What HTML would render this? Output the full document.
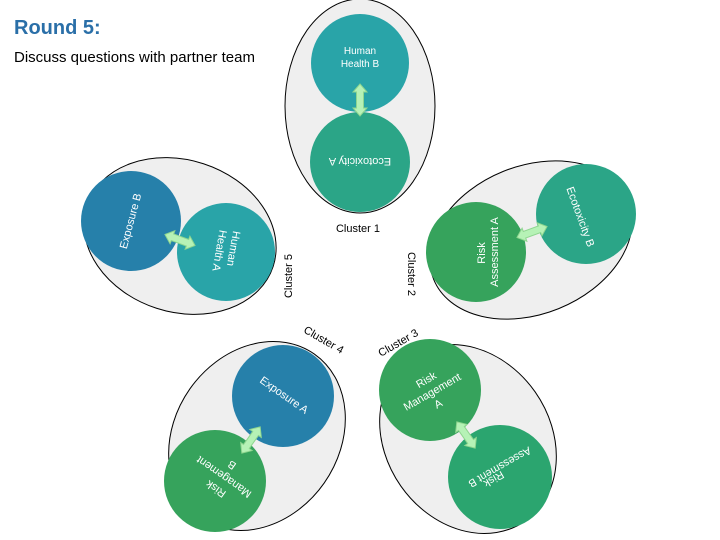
<!DOCTYPE html>
<html><head><meta charset="utf-8"><style>
html,body{margin:0;padding:0;background:#fff;width:720px;height:540px;overflow:hidden;}
svg{display:block;}
text{font-family:"Liberation Sans",sans-serif;}
</style></head><body>
<svg width="720" height="540" viewBox="0 0 720 540" xmlns="http://www.w3.org/2000/svg">
<defs>
<g id="arr">
<polygon points="-16,0 -8,-7 -8,-3.5 8,-3.5 8,-7 16,0 8,7 8,3.5 -8,3.5 -8,7" fill="#b6f2b6" stroke="#8fd68f" stroke-width="1"/>
</g>
</defs>
<text x="14" y="34" font-size="20" font-weight="bold" fill="#2a6fa8">Round 5:</text>
<text x="14" y="62" font-size="15" fill="#000">Discuss questions with partner team</text>

<!-- top cluster 1 -->
<ellipse cx="360" cy="106" rx="75" ry="107" fill="#efefef" stroke="#000" stroke-width="1"/>
<circle cx="360" cy="63" r="49" fill="#29a4a8"/>
<circle cx="360" cy="162" r="50" fill="#2ba587"/>
<use href="#arr" transform="translate(360,100) rotate(90)"/>
<text x="360" y="54" font-size="10" fill="#fff" text-anchor="middle">Human</text>
<text x="360" y="67" font-size="10" fill="#fff" text-anchor="middle">Health B</text>
<text transform="translate(360,158) rotate(180)" font-size="11" fill="#fff" text-anchor="middle">Ecotoxicity A</text>
<text x="358" y="232" font-size="11" text-anchor="middle">Cluster 1</text>

<!-- cluster 5 -->
<ellipse cx="180" cy="236" rx="98" ry="76" transform="rotate(18 180 236)" fill="#efefef" stroke="#000"/>
<circle cx="131" cy="221" r="50" fill="#2680aa"/>
<circle cx="226" cy="252" r="49" fill="#29a4a8"/>
<use href="#arr" transform="translate(180,240) rotate(20)"/>
<text transform="translate(134,222) rotate(-75)" font-size="11" fill="#fff" text-anchor="middle">Exposure B</text>
<text transform="translate(230,248) rotate(100)" font-size="11" fill="#fff" text-anchor="middle">Human</text>
<text transform="translate(216,250) rotate(100)" font-size="11" fill="#fff" text-anchor="middle">Health A</text>
<text transform="translate(292,276) rotate(-90)" font-size="11" text-anchor="middle">Cluster 5</text>

<!-- cluster 2 -->
<ellipse cx="531" cy="240" rx="105" ry="74" transform="rotate(-22 531 240)" fill="#efefef" stroke="#000"/>
<circle cx="476" cy="252" r="50" fill="#36a35c"/>
<circle cx="586" cy="214" r="50" fill="#2ba587"/>
<use href="#arr" transform="translate(532,232) rotate(-20)"/>
<text transform="translate(485,253) rotate(-90)" font-size="11" fill="#fff" text-anchor="middle">Risk</text>
<text transform="translate(498,252) rotate(-90)" font-size="11" fill="#fff" text-anchor="middle">Assessment A</text>
<text transform="translate(577,218) rotate(70)" font-size="11" fill="#fff" text-anchor="middle">Ecotoxicity B</text>
<text transform="translate(408,274) rotate(90)" font-size="11" text-anchor="middle">Cluster 2</text>

<!-- cluster 4 -->
<ellipse cx="257" cy="436" rx="82" ry="100" transform="rotate(35 257 436)" fill="#efefef" stroke="#000"/>
<circle cx="283" cy="396" r="51" fill="#2680aa"/>
<circle cx="215" cy="481" r="51" fill="#36a35c"/>
<use href="#arr" transform="translate(251,440) rotate(-55)"/>
<text transform="translate(282,398) rotate(35)" font-size="11" fill="#fff" text-anchor="middle">Exposure A</text>
<text transform="translate(218,486) rotate(215)" font-size="11" fill="#fff" text-anchor="middle">Risk</text>
<text transform="translate(226,474) rotate(215)" font-size="11" fill="#fff" text-anchor="middle">Management</text>
<text transform="translate(234,462) rotate(215)" font-size="11" fill="#fff" text-anchor="middle">B</text>
<text transform="translate(322,343) rotate(30)" font-size="11" text-anchor="middle">Cluster 4</text>

<!-- cluster 3 -->
<ellipse cx="468" cy="439" rx="82" ry="100" transform="rotate(-35 468 439)" fill="#efefef" stroke="#000"/>
<circle cx="430" cy="390" r="51" fill="#36a35c"/>
<circle cx="500" cy="477" r="52" fill="#2ba56f"/>
<use href="#arr" transform="translate(466,435) rotate(55)"/>
<text transform="translate(428,383) rotate(-30)" font-size="11" fill="#fff" text-anchor="middle">Risk</text>
<text transform="translate(434,395) rotate(-30)" font-size="11" fill="#fff" text-anchor="middle">Management</text>
<text transform="translate(440,407) rotate(-30)" font-size="11" fill="#fff" text-anchor="middle">A</text>
<text transform="translate(492,476) rotate(150)" font-size="11" fill="#fff" text-anchor="middle">Risk</text>
<text transform="translate(498,464) rotate(150)" font-size="11" fill="#fff" text-anchor="middle">Assessment B</text>
<text transform="translate(400,346) rotate(-30)" font-size="11" text-anchor="middle">Cluster 3</text>
</svg>
</body></html>
